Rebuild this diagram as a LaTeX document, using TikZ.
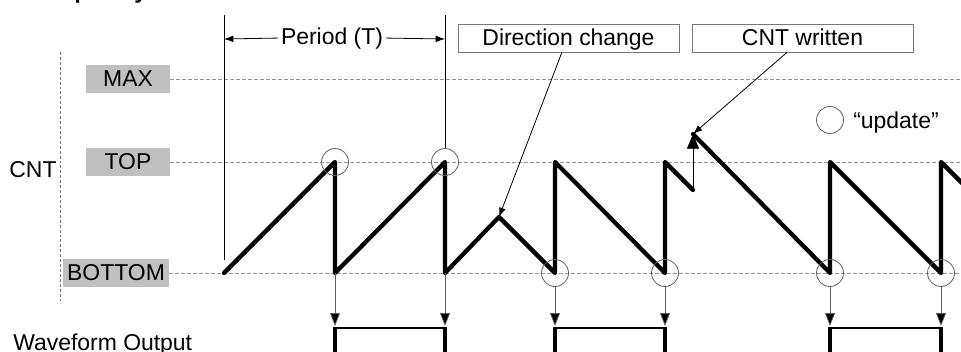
\documentclass[tikz,border=0pt]{standalone}
\usepackage{fontspec}
\setmainfont{Liberation Sans}
\usetikzlibrary{arrows.meta,calc}
\definecolor{labelgray}{RGB}{192,192,192}
\definecolor{dashgray}{RGB}{150,150,150}
\definecolor{circgray}{RGB}{95,95,95}
\definecolor{boxgray}{RGB}{120,120,120}
\newcommand\fsz{\fontsize{17.2}{20}\selectfont}
\begin{document}
\begin{tikzpicture}[x=0.75pt,y=-0.75pt,
  lbl/.style={fill=labelgray, minimum height=21pt, inner sep=0pt, font=\fsz, text height=13pt, text depth=1.75pt},
  callout/.style={draw=boxgray, line width=0.6pt, minimum width=165.75pt, minimum height=21pt, inner sep=0pt, font=\fsz, text height=13pt, text depth=1.75pt},
  txt/.style={font=\fsz, inner sep=0pt},
  level/.style={dashgray, line width=0.75pt, dash pattern=on 3pt off 1.5pt},
  upd/.style={circle, draw=circgray, line width=0.6pt, minimum size=20.25pt, inner sep=0pt},
  saw/.style={line width=3.2pt, line cap=round, line join=round},
  thin/.style={line width=0.6pt},
  ptr/.style={thin, -{Latex[length=7pt,width=5pt]}},
  down/.style={line width=0.6pt, draw=circgray, -{Triangle[length=9.75pt,width=7.5pt,fill=black]}},
  wave/.style={line width=2pt},
  waveup/.style={line width=2.6pt}
]
\useasboundingbox (0,0) rectangle (961,351);
\clip (0,0) rectangle (961,351);

% title (cut off at the top)
\node[font=\bfseries\fsz, anchor=base west, inner sep=0pt] (title) at (31,-1.5) {Frequency Waveform Generation};

% level labels
\node[lbl, minimum width=63pt] (max) at (128,79) {MAX};
\node[lbl, minimum width=63pt] (top) at (128,162) {TOP};
\node[lbl, minimum width=79.5pt] (bot) at (116,273) {BOTTOM};
\coordinate (maxE) at (961,79);
\coordinate (topE) at (961,162);
\coordinate (botE) at (961,273);
\draw[level] (max.east) -- (maxE);
\draw[level] (top.east) -- (topE);
\draw[level] (bot.east) -- (botE);

% CNT axis
\node[txt] (cnt) at (33,170) {CNT};
\coordinate (axT) at (60,52);
\coordinate (axB) at (60,301);
\draw[line width=0.6pt, draw=boxgray, dash pattern=on 2.2pt off 1.5pt] (axT) -- (axB);

% period markers
\coordinate (pl1) at (224,15);
\coordinate (pl2) at (224,260);
\coordinate (pr1) at (445,15);
\node[txt, anchor=base] (per) at (332,44) {Period (T)};
\coordinate (pa1) at (224,39);
\coordinate (pa2) at (445,39);
\draw[thin] (pl1) -- (pl2);
\draw[ptr] ($(per.west)+(-3,0)$) -- (pa1);
\draw[ptr] ($(per.east)+(3,0)$) -- (pa2);

% callouts
\node[callout] (dirbox) at (568.5,38) {Direction change};
\node[callout] (cntbox) at (802.5,38) {CNT written};

% legend
\node[upd] (leg) at (830,120) {};
\node[txt, anchor=base west] (legt) at (853,128) {“update”};

% sawtooth points
\coordinate (s0) at (224,273);
\coordinate (t1) at (335,162);
\coordinate (b1) at (335,273);
\coordinate (t2) at (445,162);
\coordinate (b2) at (445,273);
\coordinate (pk) at (499,217);
\coordinate (b3) at (555,273);
\coordinate (t3) at (555,162);
\coordinate (b4) at (665,273);
\coordinate (t4) at (665,162);
\coordinate (w1) at (693,190);
\coordinate (w2) at (693,134);
\coordinate (b5) at (830,273);
\coordinate (t5) at (830,162);
\coordinate (b6) at (941,273);
\coordinate (t6) at (941,162);
\coordinate (s9) at (971,192);

\draw[saw] (s0) -- (t1) -- (b1) -- (t2) -- (b2) -- (pk) -- (b3) -- (t3) -- (b4) -- (t4) -- (w1);
\draw[saw] (w2) -- (b5) -- (t5) -- (b6) -- (t6) -- (s9);
\draw[thin, -{Triangle[length=11pt,width=9pt]}] (w1) -- (w2);

% update circles
\node[upd] (u1) at (t1) {};
\node[upd] (u2) at (t2) {};
\node[upd] (u3) at (b3) {};
\node[upd] (u4) at (b4) {};
\node[upd] (u5) at (b5) {};
\node[upd] (u6) at (b6) {};
\coordinate (pr2) at (u2.north);
\draw[thin] (pr1) -- (pr2);

% callout pointers
\draw[ptr] ($(dirbox.south west)!0.47!(dirbox.south east)$) -- (pk);
\draw[ptr] ($(cntbox.south west)!0.43!(cntbox.south east)$) -- (w2);

% down arrows to waveform
\coordinate (a1) at (335,326);
\coordinate (a2) at (445,326);
\coordinate (a3) at (555,326);
\coordinate (a4) at (665,326);
\coordinate (a5) at (830,326);
\coordinate (a6) at (941,326);
\draw[down] (b1) -- (a1);
\draw[down] (b2) -- (a2);
\draw[down] (u3.south) -- (a3);
\draw[down] (u4.south) -- (a4);
\draw[down] (u5.south) -- (a5);
\draw[down] (u6.south) -- (a6);

% waveform output
\node[txt, anchor=base west] (wo) at (13,350) {Waveform Output};
\foreach \l/\r in {335/445,555/665,830/941}{
  \draw[wave] (\l,328) -- (\r,328);
  \draw[waveup] (\l,355) -- (\l,327.2);
  \draw[waveup] (\r,355) -- (\r,327.2);
}
\end{tikzpicture}
\end{document}
